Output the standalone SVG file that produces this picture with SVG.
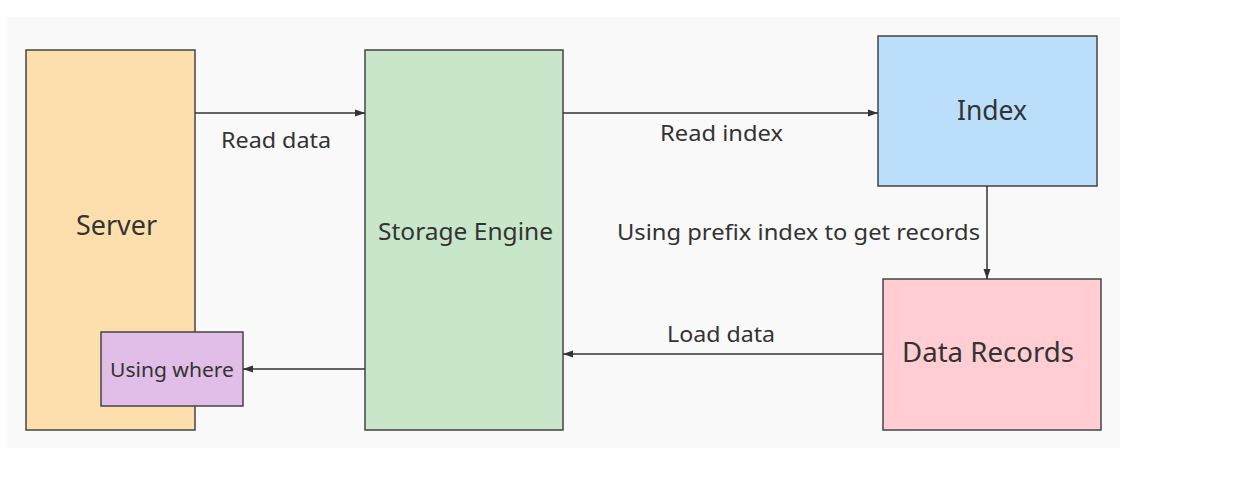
<svg xmlns="http://www.w3.org/2000/svg" width="1244" height="504" viewBox="0 0 1244 504">
<style>
.box{stroke:#444;stroke-width:1.5}
.t{font-family:"Noto Sans","Open Sans",sans-serif;fill:#333}
.c{stroke:#333;stroke-width:1.5;fill:none;marker-end:url(#ah)}
</style>
<defs>
<marker id="ah" viewBox="0 0 10 10" refX="10" refY="5" markerWidth="10" markerHeight="10" markerUnits="userSpaceOnUse" orient="auto">
<path d="M0,1.5 L10,5 L0,8.5 z" fill="#333"/>
</marker>
</defs>
<rect x="0" y="0" width="1244" height="504" fill="#fff"/>
<rect x="7" y="17" width="1113" height="431" fill="#f9f9f9"/>
<g id="server">
<rect class="box" x="26" y="50" width="169" height="380" fill="#fddfae"/>
<text class="t" x="116.5" y="235" font-size="27" text-anchor="middle" textLength="81" lengthAdjust="spacingAndGlyphs">Server</text>
</g>
<g id="storage">
<rect class="box" x="365" y="50" width="198" height="380" fill="#c8e6c9"/>
<text class="t" x="465.5" y="240" font-size="23" text-anchor="middle" textLength="175" lengthAdjust="spacingAndGlyphs">Storage Engine</text>
</g>
<g id="index">
<rect class="box" x="878" y="36" width="219" height="150" fill="#bbdefb"/>
<text class="t" x="992" y="120" font-size="27" text-anchor="middle" textLength="70" lengthAdjust="spacingAndGlyphs">Index</text>
</g>
<g id="records">
<rect class="box" x="883" y="279" width="218" height="151" fill="#ffcdd2"/>
<text class="t" x="988" y="362" font-size="27" text-anchor="middle" textLength="172" lengthAdjust="spacingAndGlyphs">Data Records</text>
</g>
<g id="where">
<rect class="box" x="101" y="332" width="142" height="74" fill="#e1bee7"/>
<text class="t" x="172" y="377" font-size="20" text-anchor="middle" textLength="124" lengthAdjust="spacingAndGlyphs">Using where</text>
</g>
<g id="connectors">
<line class="c" x1="195" y1="113" x2="365" y2="113"/>
<line class="c" x1="563" y1="113" x2="878" y2="113"/>
<line class="c" x1="987" y1="186" x2="987" y2="279"/>
<line class="c" x1="883" y1="354" x2="563" y2="354"/>
<line class="c" x1="365" y1="369" x2="243" y2="369"/>
<text class="t" x="276" y="148" font-size="22" text-anchor="middle" textLength="110" lengthAdjust="spacingAndGlyphs">Read data</text>
<text class="t" x="721.5" y="141" font-size="22" text-anchor="middle" textLength="123" lengthAdjust="spacingAndGlyphs">Read index</text>
<text class="t" x="798.5" y="240" font-size="22" text-anchor="middle" textLength="363" lengthAdjust="spacingAndGlyphs">Using prefix index to get records</text>
<text class="t" x="721" y="342" font-size="22" text-anchor="middle" textLength="108" lengthAdjust="spacingAndGlyphs">Load data</text>
</g>
</svg>
